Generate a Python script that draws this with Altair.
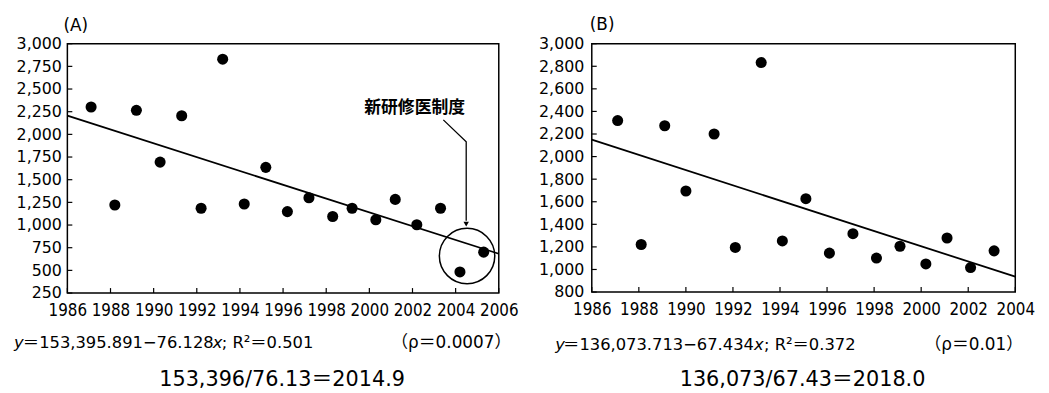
import altair as alt
import pandas as pd

# ---------------- data ----------------
years_a = [1987.1, 1988.2, 1989.2, 1990.3, 1991.3, 1992.2, 1993.2, 1994.2, 1995.2, 1996.2,
           1997.2, 1998.3, 1999.2, 2000.3, 2001.2, 2002.2, 2003.3, 2004.2, 2005.3]
values_a = [2302, 1221, 2265, 1694, 2205, 1185, 2829, 1232, 1636, 1148,
            1301, 1094, 1185, 1058, 1283, 1003, 1185, 483, 701]

years_b = [1987.1, 1988.1, 1989.1, 1990.0, 1991.2, 1992.1, 1993.2, 1994.1, 1995.1, 1996.1,
           1997.1, 1998.1, 1999.1, 2000.2, 2001.1, 2002.1, 2003.1]
values_b = [2319, 1221, 2273, 1695, 2200, 1195, 2833, 1253, 1627, 1145,
            1317, 1101, 1206, 1049, 1279, 1017, 1165]

x_ticks_a = [1986, 1988, 1990, 1992, 1994, 1996, 1998, 2000, 2002, 2004, 2006]
y_ticks_a = [250, 500, 750, 1000, 1250, 1500, 1750, 2000, 2250, 2500, 2750, 3000]
x_ticks_b = [1986, 1988, 1990, 1992, 1994, 1996, 1998, 2000, 2002, 2004]
y_ticks_b = [800, 1000, 1200, 1400, 1600, 1800, 2000, 2200, 2400, 2600, 2800, 3000]

fit_a = [153395.891, -76.128]   # intercept, slope
fit_b = [136073.713, -67.434]

title_a = "(A)"
title_b = "(B)"
eq_a = ["y", "＝153,395.891−76.128", "x", "\u00a0;\u00a0R²＝0.501"]
eq_b = ["y", "＝136,073.713−67.434", "x", "\u00a0;\u00a0R²＝0.372"]
p_a = "（ρ＝0.0007）"
p_b = "（ρ＝0.01）"
calc_a = "153,396/76.13＝2014.9"
calc_b = "136,073/67.43＝2018.0"
note_a = "新研修医制度"

# annotation geometry (data coordinates of panel A)
note_pos = [2002.1, 2290]
arrow_x = [2003.43, 2004.49, 2004.49]
arrow_y = [2160, 1919, 1046]
arrow_tip = [2004.49, 1010]
ring = [2004.53, 658]

TXT = "DejaVu Sans, Noto Sans CJK JP"


def one(text):
    return pd.DataFrame({"t": [text]})


def label(text, px, py, size=16.5, align="left", baseline="middle", style="normal",
          weight="normal", font=TXT):
    return alt.Chart(one(text)).mark_text(
        align=align, baseline=baseline, fontSize=size, font=font, fontStyle=style,
        fontWeight=weight, color="black"
    ).encode(x=alt.value(px), y=alt.value(py), text="t:N")


def panel(xs, ys, xdom, ydom, xticks, yticks, fit, W, H, lpx, lpy):
    xenc = alt.X("x:Q", scale=alt.Scale(domain=xdom, nice=False, zero=False),
                 axis=alt.Axis(values=xticks, format="d", ticks=False, domain=False, grid=False,
                               labelFont="Liberation Sans Narrow, DejaVu Sans Condensed",
                               labelFontSize=17, labelPadding=lpx, labelColor="black",
                               labelFlush=False, labelOverlap=False, title=None))
    yenc = alt.Y("y:Q", scale=alt.Scale(domain=ydom, nice=False, zero=False),
                 axis=alt.Axis(values=yticks, format=",d", ticks=False, domain=False, grid=False,
                               labelFont="DejaVu Sans", labelFontSize=16, labelPadding=lpy,
                               labelColor="black", labelFlush=False, labelOverlap=False,
                               title=None))
    pts = alt.Chart(pd.DataFrame({"x": xs, "y": ys})).mark_circle(
        size=125, color="black", opacity=1).encode(x=xenc, y=yenc)

    line = alt.Chart(pd.DataFrame({"x": xdom})).transform_calculate(
        y=f"{fit[0]} + ({fit[1]}) * datum.x"
    ).mark_line(color="black", strokeWidth=1.8).encode(x=xenc, y=yenc)

    xt = alt.Chart(pd.DataFrame({"x": xticks})).mark_rule(color="black", strokeWidth=1.2).encode(
        x=xenc, y=alt.value(H), y2=alt.value(H - 5))
    yt = alt.Chart(pd.DataFrame({"y": yticks})).mark_rule(color="black", strokeWidth=1.2).encode(
        y=yenc, x=alt.value(0), x2=alt.value(5))
    return [pts, line, xt, yt], xenc, yenc


WA, HA = 436, 252
WB, HB = 428, 251

layers_a, xa, ya = panel(years_a, values_a, [1986, 2006], [250, 3000], x_ticks_a, y_ticks_a,
                         fit_a, WA, HA, 10, 6)

ring_l = alt.Chart(pd.DataFrame({"x": [ring[0]], "y": [ring[1]]})).mark_point(
    shape="circle", filled=False, size=3136, color="black", strokeWidth=1.5, opacity=1
).encode(x=xa, y=ya)
arrow_l = alt.Chart(pd.DataFrame({"x": arrow_x, "y": arrow_y, "o": [0, 1, 2]})).mark_line(
    color="black", strokeWidth=1.3).encode(x=xa, y=ya, order="o:Q")
tip_l = alt.Chart(pd.DataFrame({"x": [arrow_tip[0]], "y": [arrow_tip[1]]})).mark_point(
    shape="triangle-down", filled=True, size=30, color="black", opacity=1).encode(x=xa, y=ya)
note_l = alt.Chart(pd.DataFrame({"x": [note_pos[0]], "y": [note_pos[1]], "t": [note_a]})).mark_text(
    font="Noto Sans CJK JP", fontSize=17, fontWeight="bold", color="black", baseline="middle"
).encode(x=xa, y=ya, text="t:N")

texts_a = [
    label(title_a, -4, -26, size=17, baseline="top"),
    label(eq_a[0], -54, 303, style="italic"),
    label(eq_a[1], -45, 303),
    label(eq_a[2], 147, 303, style="italic"),
    label(eq_a[3], 156, 303),
    label(p_a, 388, 303, align="center", size=17),
    label(calc_a, 217, 346, size=21, align="center", baseline="alphabetic"),
]

chart_a = alt.layer(*layers_a, ring_l, arrow_l, tip_l, note_l, *texts_a).properties(
    width=WA, height=HA)

layers_b, xb, yb = panel(years_b, values_b, [1986, 2004], [800, 3000], x_ticks_b, y_ticks_b,
                         fit_b, WB, HB, 10, 8)
texts_b = [
    label(title_b, -2, -27, size=17, baseline="top"),
    label(eq_b[0], -37, 305, style="italic"),
    label(eq_b[1], -29, 305),
    label(eq_b[2], 164, 305, style="italic"),
    label(eq_b[3], 174, 305),
    label(p_b, 386, 305, align="center", size=17),
    label(calc_b, 213, 346, size=21, align="center", baseline="alphabetic"),
]
chart_b = alt.layer(*layers_b, *texts_b).properties(width=WB, height=HB)

chart = alt.hconcat(chart_a, chart_b, spacing=94, bounds="flush").configure_view(
    stroke="black", strokeWidth=1.5
).properties(padding=5, background="white")

chart.save("out.html", embed_options={"renderer": "svg", "actions": False})
